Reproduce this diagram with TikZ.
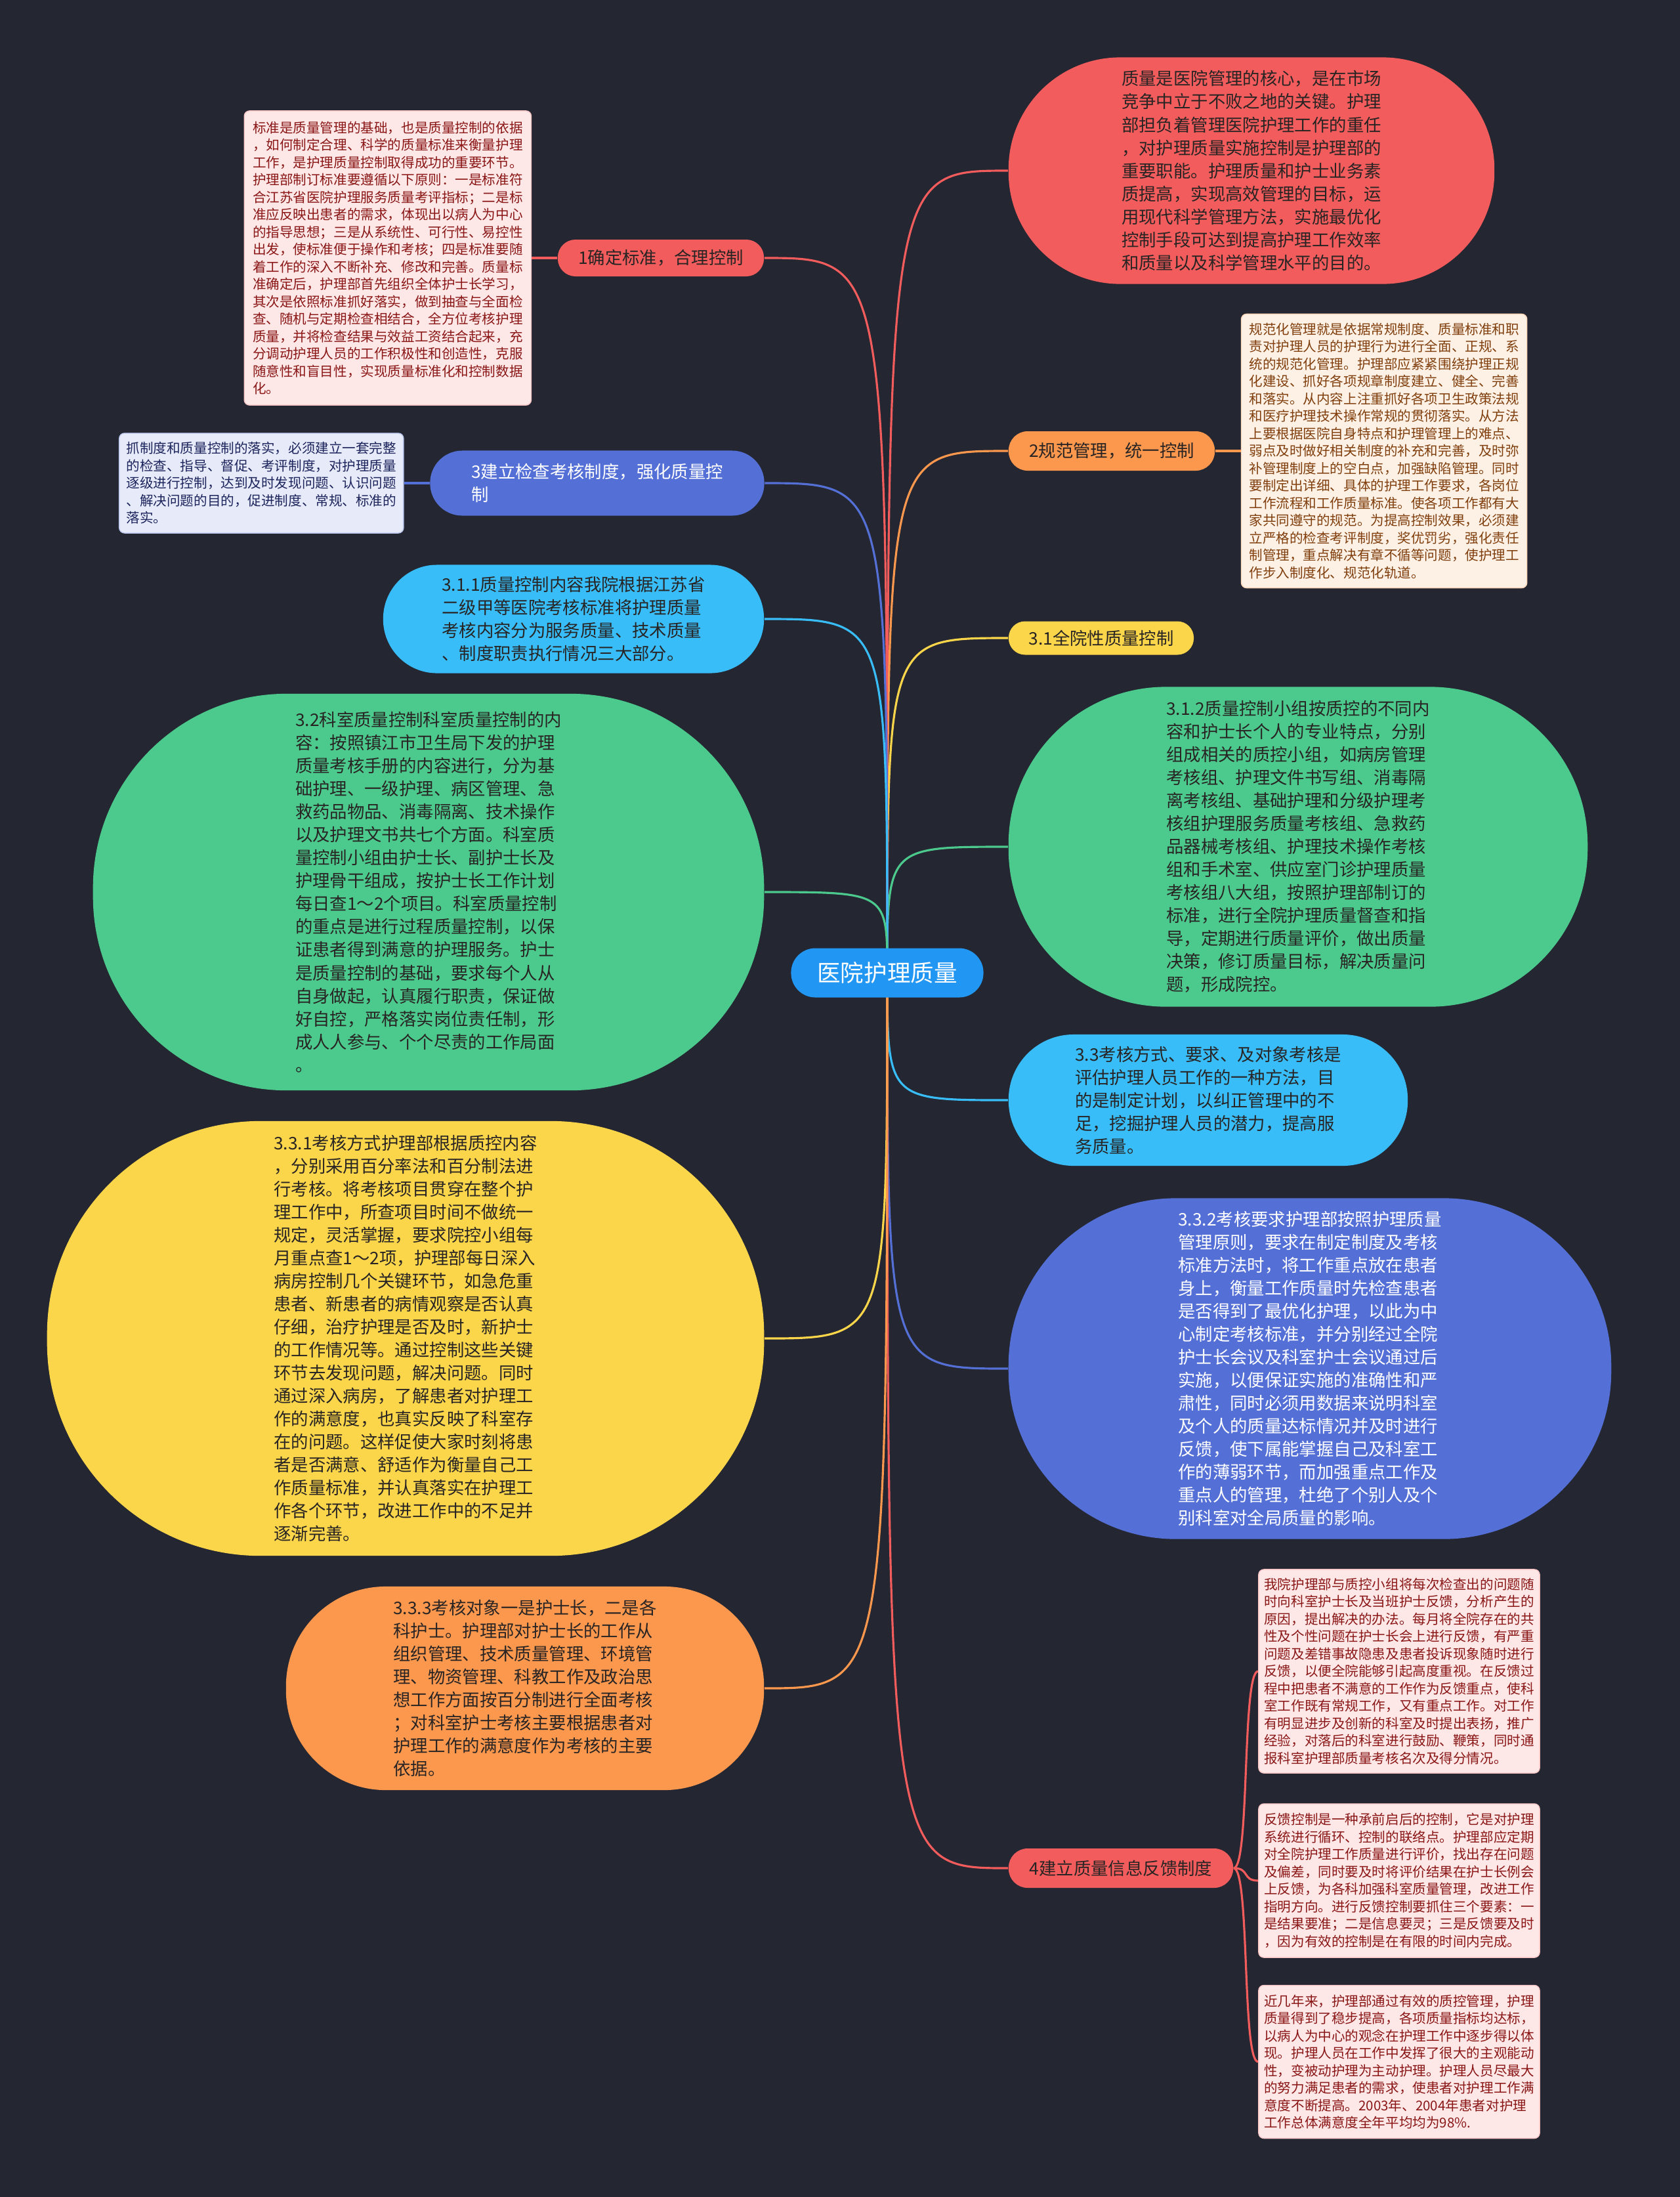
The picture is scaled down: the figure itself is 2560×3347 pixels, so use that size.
\documentclass[tikz,border=0pt]{standalone}
\usepackage{fontspec}
\setmainfont{Noto Sans CJK SC}
\usepackage{xcolor}
\usepackage{tikz}
\usetikzlibrary{positioning}

\definecolor{bgcol}{RGB}{36,39,50}
\definecolor{croot}{RGB}{33,150,243}
\definecolor{cred}{RGB}{242,92,92}
\definecolor{corange}{RGB}{252,152,78}
\definecolor{cyellow}{RGB}{252,214,74}
\definecolor{cgreen}{RGB}{76,201,140}
\definecolor{ccyan}{RGB}{56,189,248}
\definecolor{cblue}{RGB}{84,112,214}
\definecolor{txtdark}{RGB}{40,36,36}
\definecolor{notepink}{RGB}{253,231,231}
\definecolor{notepinktxt}{RGB}{138,22,22}
\definecolor{notepeach}{RGB}{253,241,230}
\definecolor{notepeachtxt}{RGB}{128,62,12}
\definecolor{notelav}{RGB}{231,234,249}
\definecolor{notelavtxt}{RGB}{28,36,92}

\pgfdeclarelayer{bg}
\pgfsetlayers{bg,main}

\begin{document}
\begin{tikzpicture}[
      x=0.01cm, y=-0.01cm,
      topic/.style={rectangle, rounded corners=#1, inner sep=0pt, align=left, text=txtdark, font=\fontsize{7.5pt}{9.96pt}\selectfont},
      note/.style={rectangle, rounded corners=0.08cm, inner sep=0pt, align=left, line width=0.4pt, font=\fontsize{5.85pt}{7.54pt}\selectfont},
      pinknote/.style={note, fill=notepink, draw=cred!35, text=notepinktxt},
      link/.style={draw=#1, line width=0.9pt}
  ]
  \useasboundingbox (0,0) rectangle (2560,3347);
  \begin{pgfonlayer}{bg}
    \fill[bgcol] (0,0) rectangle (2560,3347);
  \end{pgfonlayer}

  % Nodes
  \node[topic=0.37cm, fill=croot, text=white, minimum width=2.93cm, minimum height=0.75cm, font=\fontsize{10.1pt}{12pt}\selectfont] (root) at (1352,1482) {医院护理质量};

  % right side
  \node[topic=1.7cm, fill=cred, minimum width=7.4cm, minimum height=3.45cm] (core) at (1907,260) {质量是医院管理的核心，是在市场\\竞争中立于不败之地的关键。护理\\部担负着管理医院护理工作的重任\\，对护理质量实施控制是护理部的\\重要职能。护理质量和护士业务素\\质提高，实现高效管理的目标，运\\用现代科学管理方法，实施最优化\\控制手段可达到提高护理工作效率\\和质量以及科学管理水平的目的。};
  \node[topic=0.29cm, fill=corange, minimum width=3.14cm, minimum height=0.6cm] (norm) at (1694,687) {2规范管理，统一控制};
  \node[note, fill=notepeach, draw=corange!40, text=notepeachtxt, minimum width=4.35cm, minimum height=4.17cm, right=0.39cm of norm] (normnote) {规范化管理就是依据常规制度、质量标准和职\\责对护理人员的护理行为进行全面、正规、系\\统的规范化管理。护理部应紧紧围绕护理正规\\化建设、抓好各项规章制度建立、健全、完善\\和落实。从内容上注重抓好各项卫生政策法规\\和医疗护理技术操作常规的贯彻落实。从方法\\上要根据医院自身特点和护理管理上的难点、\\弱点及时做好相关制度的补充和完善，及时弥\\补管理制度上的空白点，加强缺陷管理。同时\\要制定出详细、具体的护理工作要求，各岗位\\工作流程和工作质量标准。使各项工作都有大\\家共同遵守的规范。为提高控制效果，必须建\\立严格的检查考评制度，奖优罚劣，强化责任\\制管理，重点解决有章不循等问题，使护理工\\作步入制度化、规范化轨道。};
  \node[topic=0.25cm, fill=cyellow, minimum width=2.82cm, minimum height=0.51cm] (whole) at (1678,972) {3.1全院性质量控制};
  \node[topic=2.4cm, fill=cgreen, minimum width=8.82cm, minimum height=4.87cm] (group) at (1978,1290) {3.1.2质量控制小组按质控的不同内\\容和护士长个人的专业特点，分别\\组成相关的质控小组，如病房管理\\考核组、护理文件书写组、消毒隔\\离考核组、基础护理和分级护理考\\核组护理服务质量考核组、急救药\\品器械考核组、护理技术操作考核\\组和手术室、供应室门诊护理质量\\考核组八大组，按照护理部制订的\\标准，进行全院护理质量督查和指\\导，定期进行质量评价，做出质量\\决策，修订质量目标，解决质量问\\题，形成院控。};
  \node[topic=0.99cm, fill=ccyan, minimum width=6.08cm, minimum height=2cm] (exam) at (1841,1676) {3.3考核方式、要求、及对象考核是\\评估护理人员工作的一种方法，目\\的是制定计划，以纠正管理中的不\\足，挖掘护理人员的潜力，提高服\\务质量。};
  \node[topic=2.55cm, fill=cblue, text=white, minimum width=9.18cm, minimum height=5.19cm] (demand) at (1996,2085) {3.3.2考核要求护理部按照护理质量\\管理原则，要求在制定制度及考核\\标准方法时，将工作重点放在患者\\身上，衡量工作质量时先检查患者\\是否得到了最优化护理，以此为中\\心制定考核标准，并分别经过全院\\护士长会议及科室护士会议通过后\\实施，以便保证实施的准确性和严\\肃性，同时必须用数据来说明科室\\及个人的质量达标情况并及时进行\\反馈，使下属能掌握自己及科室工\\作的薄弱环节，而加强重点工作及\\重点人的管理，杜绝了个别人及个\\别科室对全局质量的影响。};
  \node[topic=0.29cm, fill=cred, minimum width=3.42cm, minimum height=0.6cm] (feedback) at (1708,2846) {4建立质量信息反馈制度};
  \node[pinknote, minimum width=4.28cm, minimum height=3.1cm] (fbnote1) at (2132,2546) {我院护理部与质控小组将每次检查出的问题随\\时向科室护士长及当班护士反馈，分析产生的\\原因，提出解决的办法。每月将全院存在的共\\性及个性问题在护士长会上进行反馈，有严重\\问题及差错事故隐患及患者投诉现象随时进行\\反馈，以便全院能够引起高度重视。在反馈过\\程中把患者不满意的工作作为反馈重点，使科\\室工作既有常规工作，又有重点工作。对工作\\有明显进步及创新的科室及时提出表扬，推广\\经验，对落后的科室进行鼓励、鞭策，同时通\\报科室护理部质量考核名次及得分情况。};
  \node[pinknote, minimum width=4.28cm, minimum height=2.34cm] (fbnote2) at (2132,2865) {反馈控制是一种承前启后的控制，它是对护理\\系统进行循环、控制的联络点。护理部应定期\\对全院护理工作质量进行评价，找出存在问题\\及偏差，同时要及时将评价结果在护士长例会\\上反馈，为各科加强科室质量管理，改进工作\\指明方向。进行反馈控制要抓住三个要素：一\\是结果要准；二是信息要灵；三是反馈要及时\\，因为有效的控制是在有限的时间内完成。};
  \node[pinknote, minimum width=4.28cm, minimum height=2.33cm] (fbnote3) at (2132,3141) {近几年来，护理部通过有效的质控管理，护理\\质量得到了稳步提高，各项质量指标均达标，\\以病人为中心的观念在护理工作中逐步得以体\\现。护理人员在工作中发挥了很大的主观能动\\性，变被动护理为主动护理。护理人员尽最大\\的努力满足患者的需求，使患者对护理工作满\\意度不断提高。2003年、2004年患者对护理\\工作总体满意度全年平均均为98\%.};

  % left side
  \node[topic=0.27cm, fill=cred, minimum width=3.14cm, minimum height=0.56cm] (std) at (1007,393) {1确定标准，合理控制};
  \node[pinknote, minimum width=4.37cm, minimum height=4.48cm, left=0.39cm of std] (stdnote) {标准是质量管理的基础，也是质量控制的依据\\，如何制定合理、科学的质量标准来衡量护理\\工作，是护理质量控制取得成功的重要环节。\\护理部制订标准要遵循以下原则：一是标准符\\合江苏省医院护理服务质量考评指标；二是标\\准应反映出患者的需求，体现出以病人为中心\\的指导思想；三是从系统性、可行性、易控性\\出发，使标准便于操作和考核；四是标准要随\\着工作的深入不断补充、修改和完善。质量标\\准确定后，护理部首先组织全体护士长学习，\\其次是依照标准抓好落实，做到抽查与全面检\\查、随机与定期检查相结合，全方位考核护理\\质量，并将检查结果与效益工资结合起来，充\\分调动护理人员的工作积极性和创造性，克服\\随意性和盲目性，实现质量标准化和控制数据\\化。};
  \node[topic=0.49cm, fill=cblue, text=white, minimum width=5.09cm, minimum height=0.99cm] (check) at (910,736) {3建立检查考核制度，强化质量控\\制};
  \node[note, fill=notelav, draw=cblue!40, text=notelavtxt, minimum width=4.33cm, minimum height=1.52cm, left=0.39cm of check] (checknote) {抓制度和质量控制的落实，必须建立一套完整\\的检查、指导、督促、考评制度，对护理质量\\逐级进行控制，达到及时发现问题、认识问题\\、解决问题的目的，促进制度、常规、标准的\\落实。};
  \node[topic=0.82cm, fill=ccyan, minimum width=5.8cm, minimum height=1.65cm] (content) at (874,943) {3.1.1质量控制内容我院根据江苏省\\二级甲等医院考核标准将护理质量\\考核内容分为服务质量、技术质量\\、制度职责执行情况三大部分。};
  \node[topic=2.95cm, fill=cgreen, minimum width=10.22cm, minimum height=6.04cm] (dept) at (653,1359) {3.2科室质量控制科室质量控制的内\\容：按照镇江市卫生局下发的护理\\质量考核手册的内容进行，分为基\\础护理、一级护理、病区管理、急\\救药品物品、消毒隔离、技术操作\\以及护理文书共七个方面。科室质\\量控制小组由护士长、副护士长及\\护理骨干组成，按护士长工作计划\\每日查1～2个项目。科室质量控制\\的重点是进行过程质量控制，以保\\证患者得到满意的护理服务。护士\\是质量控制的基础，要求每个人从\\自身做起，认真履行职责，保证做\\好自控，严格落实岗位责任制，形\\成人人参与、个个尽责的工作局面\\。};
  \node[topic=3.25cm, fill=cyellow, minimum width=10.92cm, minimum height=6.62cm] (method) at (618,2039) {3.3.1考核方式护理部根据质控内容\\，分别采用百分率法和百分制法进\\行考核。将考核项目贯穿在整个护\\理工作中，所查项目时间不做统一\\规定，灵活掌握，要求院控小组每\\月重点查1～2项，护理部每日深入\\病房控制几个关键环节，如急危重\\患者、新患者的病情观察是否认真\\仔细，治疗护理是否及时，新护士\\的工作情况等。通过控制这些关键\\环节去发现问题，解决问题。同时\\通过深入病房，了解患者对护理工\\作的满意度，也真实反映了科室存\\在的问题。这样促使大家时刻将患\\者是否满意、舒适作为衡量自己工\\作质量标准，并认真落实在护理工\\作各个环节，改进工作中的不足并\\逐渐完善。};
  \node[topic=1.52cm, fill=corange, minimum width=7.28cm, minimum height=3.1cm] (target) at (800,2572) {3.3.3考核对象一是护士长，二是各\\科护士。护理部对护士长的工作从\\组织管理、技术质量管理、环境管\\理、物资管理、科教工作及政治思\\想工作方面按百分制进行全面考核\\；对科室护士考核主要根据患者对\\护理工作的满意度作为考核的主要\\依据。};

  % Links
  \begin{pgfonlayer}{bg}
    \draw[link=cred] (root.center) .. controls (root.center |- core.west) .. (core.west);
    \draw[link=corange] (root.center) .. controls (root.center |- norm.west) .. (norm.west);
    \draw[link=cyellow] (root.center) .. controls (root.center |- whole.west) .. (whole.west);
    \draw[link=cgreen] (root.center) .. controls (root.center |- group.west) .. (group.west);
    \draw[link=ccyan] (root.center) .. controls (root.center |- exam.west) .. (exam.west);
    \draw[link=cblue] (root.center) .. controls (root.center |- demand.west) .. (demand.west);
    \draw[link=cred] (root.center) .. controls (root.center |- feedback.west) .. (feedback.west);
    \draw[link=cred] (root.center) .. controls (root.center |- std.east) .. (std.east);
    \draw[link=cblue] (root.center) .. controls (root.center |- check.east) .. (check.east);
    \draw[link=ccyan] (root.center) .. controls (root.center |- content.east) .. (content.east);
    \draw[link=cgreen] (root.center) .. controls (root.center |- dept.east) .. (dept.east);
    \draw[link=cyellow] (root.center) .. controls (root.center |- method.east) .. (method.east);
    \draw[link=corange] (root.center) .. controls (root.center |- target.east) .. (target.east);
    % notes
    \draw[link=corange] (norm.east) -- (normnote.west);
    \draw[link=cred] (std.west) -- (stdnote.east);
    \draw[link=cblue] (check.west) -- (checknote.east);
    \draw[link=cred] (feedback.east) .. controls +(25,0) and +(-25,0) .. (fbnote1.west);
    \draw[link=cred] (feedback.east) .. controls +(25,0) and +(-25,0) .. (fbnote2.west);
    \draw[link=cred] (feedback.east) .. controls +(25,0) and +(-25,0) .. (fbnote3.west);
  \end{pgfonlayer}
\end{tikzpicture}
\end{document}
